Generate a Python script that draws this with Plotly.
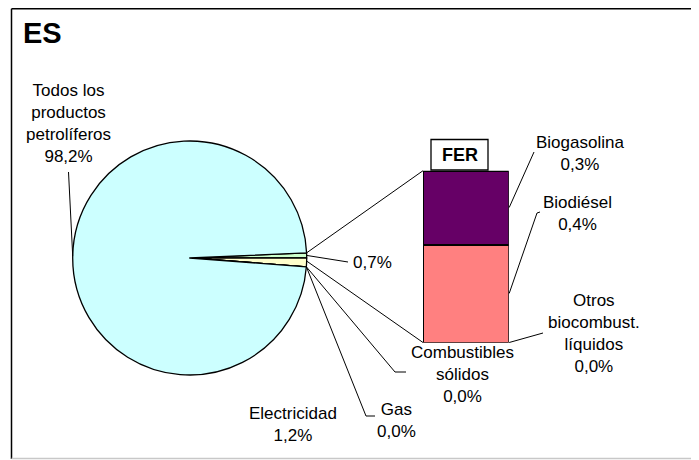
import math
import plotly.graph_objects as go

# ---------------- data ----------------
pie_labels = ["FER", "Electricidad", "Gas", "Combustibles<br>sólidos",
              "Todos los<br>productos<br>petrolíferos"]
pie_values = [0.7, 1.2, 0.0, 0.0, 98.2]
pie_colors = ["#CCFFCC", "#FFFFCC", "#99CCFF", "#C0C0C0", "#CCFFFF"]

fer_labels = ["Otros<br>biocombust.<br>líquidos", "Biodiésel", "Biogasolina"]
fer_values = [0.0, 0.4, 0.3]
fer_colors = ["#9999FF", "#FF8080", "#660066"]

title_text = "ES"
bar_title = "FER"

# ---------------- layout constants (window pixels) ----------------
OFF = 8                      # default page (body) margin
W, H = 699 - OFF, 460 - OFF  # figure size so the page fits the window
FONT = "Liberation Sans, Arial, sans-serif"
FS = 17
PCX, PCY, PR = 189.7, 258.0, 117.0               # pie centre / radius
BX0, BX1, BY0, BY1 = 423.0, 508.7, 170.7, 342.5  # bar box (top, bottom)


def px(x):
    return (x - OFF) / W


def py(y):
    return 1 - (y - OFF) / H


def fmt(v):
    return f"{v:.1f}".replace(".", ",") + "%"


total = sum(pie_values)
first_deg = pie_values[0] / total * 360.0
rotation = 90.0 - first_deg  # first slice ends at 3 o'clock

# slice angles (clockwise from 12 o'clock, like plotly)
starts, ends = [], []
a = rotation
for v in pie_values:
    starts.append(a)
    a += v / total * 360.0
    ends.append(a)


def circ(deg):
    r = math.radians(deg)
    return PCX + PR * math.sin(r), PCY - PR * math.cos(r)


fer_total = sum(fer_values)


def bar_y(v):
    return BY1 - v / fer_total * (BY1 - BY0)


fig = go.Figure()

fig.add_trace(go.Pie(
    labels=[l.replace("<br>", " ") for l in pie_labels],
    values=pie_values,
    sort=False,
    direction="clockwise",
    rotation=rotation,
    marker=dict(colors=pie_colors, line=dict(color="black", width=1.3)),
    textinfo="none",
    hoverinfo="skip",
    showlegend=False,
    domain=dict(x=[px(PCX - PR), px(PCX + PR)], y=[py(PCY + PR), py(PCY - PR)]),
))

for lab, val, col in zip(fer_labels, fer_values, fer_colors):
    fig.add_trace(go.Bar(
        x=[0], y=[val], width=[1.0],
        marker=dict(color=col, line=dict(color="black", width=2)),
        name=lab.replace("<br>", " "),
        showlegend=False, hoverinfo="skip",
        xaxis="x", yaxis="y",
    ))

shapes = []


def line(x0, y0, x1, y1, color="black", w=1):
    shapes.append(dict(type="line", xref="paper", yref="paper",
                       x0=px(x0), y0=py(y0), x1=px(x1), y1=py(y1),
                       line=dict(color=color, width=w)))


# frame
line(11.5, 8.8, 692.5, 8.8, w=1.5)
line(11.5, 8.8, 11.5, 459, w=1.5)
line(692.5, 8.8, 692.5, 459, w=1.5)
line(11.5, 458.5, 692.5, 458.5, color="#C8C8C8", w=1.3)

# connectors pie -> bar
sx, sy = circ(starts[0])
line(sx, sy, BX0, BY0)
ex, ey = circ(ends[0] + 1.5)
line(ex, ey, BX0, BY1)

annotations = []


def label(text, x, y, size=FS, bold=False, anchor="center"):
    if bold:
        text = f"<b>{text}</b>"
    annotations.append(dict(text=text, x=px(x), y=py(y), xref="paper", yref="paper",
                            xanchor=anchor, yanchor="middle", showarrow=False,
                            align="center",
                            font=dict(family=FONT, size=size, color="black")))


# pie labels
# FER (0,7%)
mx, my = circ((starts[0] + ends[0]) / 2)
line(mx, my, 348, 262)
label(fmt(pie_values[0]), 372.5, 262)
# Electricidad
label(pie_labels[1] + "<br>" + fmt(pie_values[1]), 293.3, 424)
# Gas
gx, gy = circ(starts[2])
line(gx, gy, 366, 416)
line(366, 416, 375, 416)
label(pie_labels[2] + "<br>" + fmt(pie_values[2]), 396.7, 420)
# Combustibles sólidos
cx_, cy_ = circ(starts[3])
line(cx_, cy_, 395, 372)
line(395, 372, 406, 372)
label(pie_labels[3] + "<br>" + fmt(pie_values[3]), 462, 374)
# Petroleum
tx, ty = circ((starts[4] + ends[4]) / 2)
line(tx, ty, 68.5, 172)
label(pie_labels[4] + "<br>" + fmt(pie_values[4]), 68.8, 124)

# bar labels
cum = 0.0
mids = []
for v in fer_values:
    mids.append(cum + v / 2)
    cum += v
# Otros
line(BX1 + 0.5, bar_y(mids[0]), 543, 333)
label(fer_labels[0] + "<br>" + fmt(fer_values[0]), 594, 333)
# Biodiésel
line(BX1 + 0.5, bar_y(mids[1]), 537, 213)
line(537, 213, 540, 212)
label(fer_labels[1] + "<br>" + fmt(fer_values[1]), 577, 214)
# Biogasolina
line(BX1 + 0.5, bar_y(mids[2]), 534, 152)
label(fer_labels[2] + "<br>" + fmt(fer_values[2]), 580, 153)

# FER box
shapes.append(dict(type="rect", xref="paper", yref="paper",
                   x0=px(431), x1=px(488), y0=py(170), y1=py(139.5),
                   fillcolor="white", line=dict(color="black", width=1.3)))
label(bar_title, 459.5, 155, size=18, bold=True)

# Title
label(title_text, 21, 33, size=29, bold=True, anchor="left")

fig.update_layout(
    width=W, height=H,
    margin=dict(l=0, r=0, t=0, b=0),
    paper_bgcolor="white", plot_bgcolor="rgba(0,0,0,0)",
    barmode="stack",
    bargap=0,
    xaxis=dict(domain=[px(BX0), px(BX1)], range=[-0.5, 0.5], visible=False, fixedrange=True),
    yaxis=dict(domain=[py(BY1), py(BY0)], range=[0, fer_total], visible=False, fixedrange=True),
    shapes=shapes,
    annotations=annotations,
    font=dict(family=FONT, size=FS, color="black"),
)

fig.write_html("out.html")
